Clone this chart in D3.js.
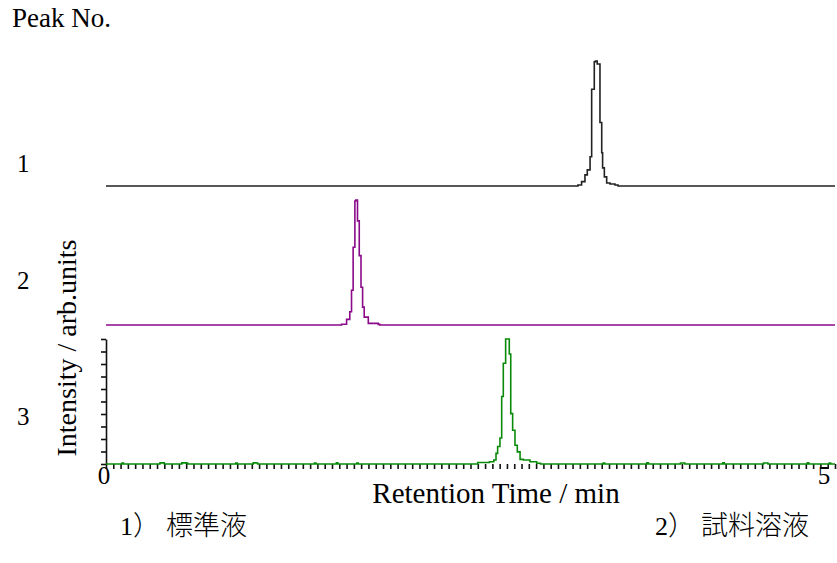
<!DOCTYPE html>
<html>
<head>
<meta charset="utf-8">
<script src="https://cdn.jsdelivr.net/npm/d3@7/dist/d3.min.js"></script>
<style>
  html, body { margin: 0; padding: 0; background: #fff; }
  svg { display: block; }
</style>
</head>
<body>
<svg id="chart" width="837" height="563"></svg>
<script>
// ---- data ----
const timeDomain = [0, 5];               // min
const xTickLabels = [0, 5];
const peakNumbers = ["1", "2", "3"];
const sampleNumbers = ["1", "2"];
const sampleNames = ["）  標準液", "）  試料溶液"];

// trace 1 (black): [time min, intensity arb.]
const trace1 = [
  [0, 0], [3.228, 0], [3.237, 0.8], [3.262, 3.5], [3.285, 8.9], [3.301, 12.9],
  [3.320, 23.4], [3.331, 77.4], [3.349, 99.4], [3.357, 100], [3.369, 97.6],
  [3.388, 50.8], [3.400, 26.6], [3.406, 14.5], [3.418, 7.3], [3.434, 2.4],
  [3.457, 1.6], [3.491, 0.8], [3.512, 0], [5.0, 0]
];
// trace 2 (purple)
const trace2 = [
  [0, 0], [1.612, 0], [1.616, 0.6], [1.650, 4.5], [1.672, 10.6], [1.684, 27.8],
  [1.695, 62.2], [1.707, 99.2], [1.713, 100], [1.725, 83.3], [1.737, 55.5],
  [1.749, 30.2], [1.760, 14.3], [1.771, 6.3], [1.799, 1.3], [1.867, 0.5],
  [1.878, 0], [5.0, 0]
];
// trace 3 (green)
const trace3 = [
  [0, 0], [0.11, 0.8], [0.12, 0], [0.36, 0], [0.37, 0.9], [0.39, 0.9], [0.40, 0],
  [0.51, 0], [0.52, 0.9], [0.55, 0.7], [0.56, 0], [0.88, 0], [0.89, 0.8], [0.90, 0],
  [1.00, 0], [1.01, 0.9], [1.03, 0.8], [1.04, 0], [1.42, 0], [1.43, 0.8], [1.44, 0],
  [1.57, 0], [1.58, 0.9], [1.59, 0], [1.71, 0], [1.72, 0.7], [1.73, 0],
  [2.52, 0], [2.55, 1.2], [2.63, 1.8], [2.66, 3.2], [2.675, 8.5], [2.686, 14.0],
  [2.702, 20.8], [2.714, 54.0], [2.725, 80.6], [2.741, 100], [2.759, 100],
  [2.766, 88.0], [2.776, 40.3], [2.789, 27.0], [2.805, 15.0], [2.821, 9.7],
  [2.840, 3.7], [2.862, 3.2], [2.908, 1.8], [2.954, 0.6], [2.98, 0],
  [3.40, 0], [3.41, 0.8], [3.42, 0], [3.70, 0], [3.71, 0.9], [3.72, 0],
  [3.93, 0], [3.94, 0.8], [3.96, 0.8], [3.97, 0], [4.22, 0], [4.23, 0.9], [4.24, 0],
  [4.50, 0], [4.51, 0.8], [4.53, 0.8], [4.54, 0], [4.80, 0], [4.81, 0.9], [4.82, 0],
  [4.95, 0], [4.96, 0.8], [4.97, 0], [5.0, 0]
];
const traceColors = ["#222222", "#8a0a8a", "#0a8a0a"];

// ---- layout ----
const SERIF = "'Liberation Serif', 'Times New Roman', Times, 'DejaVu Serif', serif";
const CJK = "'Noto Sans CJK JP', 'Noto Sans CJK SC', sans-serif";
const FS = 27;

const svg = d3.select("#chart").attr("font-family", SERIF);
const x = d3.scaleLinear().domain(timeDomain).range([106, 835]);
const laneBase = [186, 325, 464];
const laneHeight = 125;
const yLanes = laneBase.map(b => d3.scaleLinear().domain([0, 100]).range([b, b - laneHeight]));

// x axis ticks (minor, no labels)
const xTickVals = d3.range(0, 101).map(i => i * 0.05);
const xAxis = d3.axisBottom(x).tickValues(xTickVals).tickSize(5).tickFormat("").tickSizeOuter(0);
const gx = svg.append("g").attr("transform", `translate(0,${laneBase[2]})`).call(xAxis);
gx.select(".domain").remove();
gx.selectAll(".tick line").attr("stroke", "#111").attr("stroke-width", 1.6);

// y axis for lane 3
const yAxis = d3.axisLeft(yLanes[2]).tickValues(d3.range(0, 101, 10)).tickSize(5).tickFormat("").tickSizeOuter(0);
const gy = svg.append("g").attr("transform", "translate(106,0)").call(yAxis);
gy.select(".domain").attr("stroke", "#111").attr("stroke-width", 1.6);
gy.selectAll(".tick line").attr("stroke", "#111").attr("stroke-width", 1.6);

// traces
[trace1, trace2, trace3].forEach((tr, i) => {
  const line = d3.line().x(d => x(d[0])).y(d => yLanes[i](d[1])).curve(d3.curveStepAfter);
  svg.append("path").datum(tr)
    .attr("d", line)
    .attr("fill", "none")
    .attr("stroke", traceColors[i])
    .attr("stroke-width", 1.6);
});

// texts
function txt(xp, yp, s, size, anchor) {
  return svg.append("text").attr("x", xp).attr("y", yp)
    .attr("font-family", SERIF).attr("font-size", size || FS)
    .attr("text-anchor", anchor || "start").attr("fill", "#000").text(s);
}
txt(12, 27, "Peak No.", FS);
const peakLabelY = [172, 289, 425];
peakNumbers.forEach((p, i) => txt(17, peakLabelY[i], p, FS - 2));
svg.append("text")
  .attr("transform", "translate(76,348) rotate(-90)")
  .attr("text-anchor", "middle").attr("font-size", FS + 1).attr("font-family", SERIF)
  .text("Intensity / arb.units");
txt(x(xTickLabels[0]) - 2, 484, String(xTickLabels[0]), FS - 2, "middle");
txt(x(xTickLabels[1]) - 11, 484, String(xTickLabels[1]), FS - 2, "middle");
txt(496, 503, "Retention Time / min", FS + 2, "middle");
const sampleX = [120, 655];
sampleNumbers.forEach((n, i) => {
  const t = txt(sampleX[i], 535, n, FS - 1);
  t.append("tspan").attr("font-family", CJK).attr("font-weight", 300)
    .attr("font-size", FS).text(sampleNames[i]);
});
</script>
</body>
</html>
